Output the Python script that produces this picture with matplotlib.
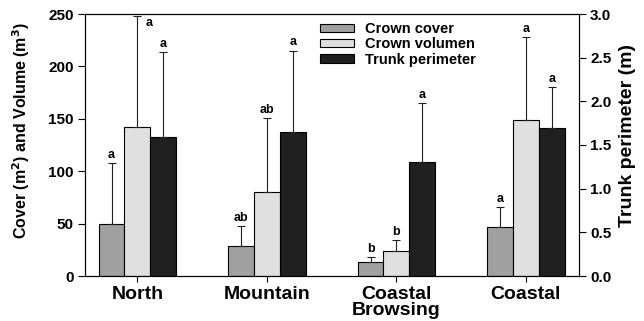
import numpy as np
import matplotlib.pyplot as plt

plt.rcParams['font.family'] = ['Liberation Sans', 'DejaVu Sans']
plt.rcParams['font.weight'] = 'bold'

# data
sites = ["North", "Mountain", "Coastal\nBrowsing", "Coastal"]
cover = [50, 29, 13, 46.5]
cover_err = [58, 19, 5, 19.5]
volume = [142.5, 80.5, 24, 149]
volume_err = [105.5, 70, 10.5, 79]
trunk = [1.59, 1.65, 1.30, 1.69]      # right axis (m)
trunk_err = [0.97, 0.93, 0.68, 0.47]
cover_lab = ["a", "ab", "b", "a"]
volume_lab = ["a", "ab", "b", "a"]
trunk_lab = ["a", "a", "a", "a"]

x = np.arange(len(sites))
w = 0.2

fig = plt.figure(figsize=(6.44, 3.21), dpi=100)
ax = fig.add_axes([85/644, 1 - 276/321, 494/644, 262/321])
ax2 = ax.twinx()

b1 = ax.bar(x - w, cover, w, color='#a0a0a0', edgecolor='black', linewidth=0.8, label='Crown cover')
b2 = ax.bar(x, volume, w, color='#e0e0e0', edgecolor='black', linewidth=0.8, label='Crown volumen')
b3 = ax2.bar(x + w, trunk, w, color='#202020', edgecolor='black', linewidth=0.8, label='Trunk perimeter')

z = np.zeros(len(sites))
ekw = dict(fmt='none', ecolor='#202020', elinewidth=0.8, capsize=3, capthick=0.8)
ax.errorbar(x - w, cover, yerr=[z, cover_err], **ekw)
ax.errorbar(x, volume, yerr=[z, volume_err], **ekw)
ax2.errorbar(x + w, trunk, yerr=[z, trunk_err], **ekw)

# significance letters
fs_l = 9
for i in range(len(sites)):
    ax.text(x[i] - w, cover[i] + cover_err[i] + 2, cover_lab[i], ha='center', va='bottom', fontsize=fs_l, fontweight='bold')
    if i == 0:
        ax.text(x[i] + 0.06, volume[i] + volume_err[i] - 1, volume_lab[i], ha='left', va='top', fontsize=fs_l, fontweight='bold')
    else:
        ax.text(x[i], volume[i] + volume_err[i] + 2, volume_lab[i], ha='center', va='bottom', fontsize=fs_l, fontweight='bold')
    ax2.text(x[i] + w, trunk[i] + trunk_err[i] + 0.025, trunk_lab[i], ha='center', va='bottom', fontsize=fs_l, fontweight='bold')

ax.set_xlim(-0.405, 3.41)
ax.set_ylim(0, 250)
ax2.set_ylim(0, 3.0)
ax.set_yticks([0, 50, 100, 150, 200, 250])
ax2.set_yticks([0, 0.5, 1.0, 1.5, 2.0, 2.5, 3.0])
ax2.set_yticklabels(['0.0', '0.5', '1.0', '1.5', '2.0', '2.5', '3.0'])
ax.set_xticks(x)
ax.set_xticklabels(sites, fontsize=14, fontweight='bold', linespacing=0.95)
ax.tick_params(axis='y', labelsize=11, direction='out', length=5, pad=3)
ax2.tick_params(axis='y', labelsize=11, direction='out', length=5, pad=3)
ax.tick_params(axis='x', direction='out', length=4, pad=3)
for a in (ax, ax2):
    for s in a.spines.values():
        s.set_linewidth(0.8)

ax.set_ylabel('Cover (m$\\mathbf{^2}$) and Volume (m$\\mathbf{^3}$)', fontsize=11.5, fontweight='bold')
ax2.set_ylabel('Trunk perimeter (m)', fontsize=14, fontweight='bold')
ax.yaxis.set_label_coords(-0.107, 0.557)
ax2.yaxis.set_label_coords(1.081, 0.538)

ax.legend(handles=[b1, b2, b3], loc='upper left', bbox_to_anchor=(0.476, 0.97), frameon=False,
          fontsize=10.5, handlelength=2.3, handleheight=0.5, handletextpad=0.8,
          labelspacing=0.1, borderaxespad=0, borderpad=0)

fig.savefig('out.png', dpi=100)
